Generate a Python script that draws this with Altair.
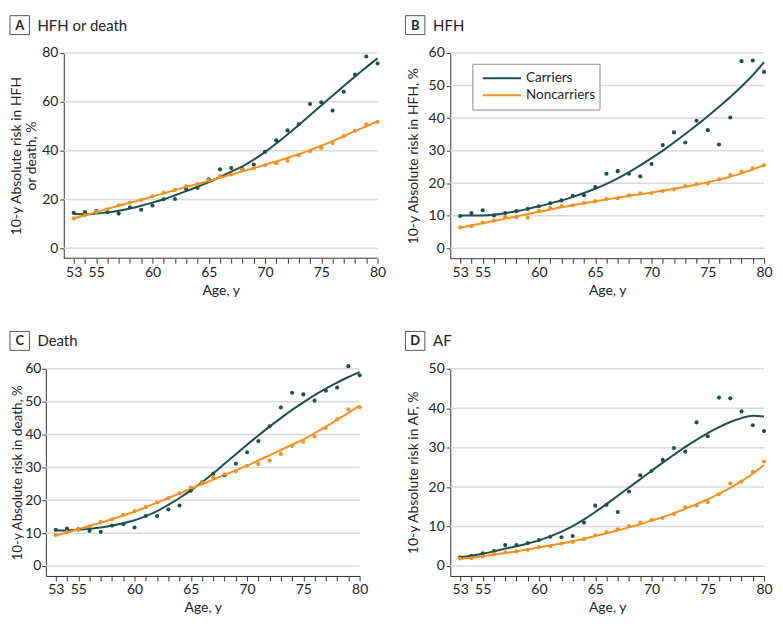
import altair as alt
import pandas as pd

ages = list(range(53, 81))
shown_ages = [53, 55, 60, 65, 70, 75, 80]
groups = ["Carriers", "Noncarriers"]
TEAL = "#1e4f4b"
ORANGE = "#f7901e"

# Panel A: HFH or death
a_car_obs = [14.5, 14.8, 15.2, 14.8, 14.2, 16.8, 15.8, 17.5, 20.1, 20.2, 24.2, 24.7, 28.3, 32.3, 32.9, 32.4, 34.3, 39.5, 44.2, 48.3, 50.8, 59.1, 59.8, 56.4, 64.1, 71.2, 78.6, 75.7]
a_non_obs = [12.2, 13.6, 14.9, 16.0, 17.6, 18.7, 19.8, 21.3, 22.8, 24.0, 25.4, 26.4, 27.8, 29.6, 30.2, 32.1, 32.8, 34.0, 34.8, 35.8, 38.1, 39.7, 41.1, 43.1, 46.0, 48.1, 50.8, 51.8]
a_car_fit = [14.0, 13.9, 14.2, 14.7, 15.4, 16.3, 17.4, 18.7, 20.1, 21.7, 23.4, 25.2, 27.1, 29.2, 31.4, 33.6, 36.3, 39.4, 42.9, 46.6, 50.5, 54.5, 58.5, 62.5, 66.5, 70.4, 74.2, 77.8]
a_non_fit = [12.2, 13.5, 14.8, 16.1, 17.4, 18.6, 19.9, 21.2, 22.5, 23.8, 25.1, 26.3, 27.6, 28.9, 30.2, 31.5, 32.8, 34.2, 35.6, 37.0, 38.5, 40.2, 42.0, 43.9, 45.9, 48.0, 50.0, 52.0]

# Panel B: HFH
b_car_obs = [9.9, 10.8, 11.7, 10.1, 10.8, 11.4, 12.1, 12.9, 13.8, 14.7, 16.1, 16.3, 18.8, 22.9, 23.7, 22.9, 22.1, 25.9, 31.7, 35.6, 32.5, 39.2, 36.3, 31.9, 40.2, 57.5, 57.7, 54.2]
b_non_obs = [6.4, 6.8, 7.9, 8.5, 9.6, 9.5, 9.4, 11.5, 12.4, 12.9, 13.2, 13.9, 14.5, 15.1, 15.4, 16.3, 16.9, 17.0, 17.6, 18.1, 19.1, 19.7, 19.9, 21.2, 22.5, 23.6, 24.6, 25.5]
b_car_fit = [10.1, 10.1, 10.1, 10.3, 10.8, 11.4, 12.1, 12.9, 13.8, 14.7, 15.8, 17.0, 18.3, 19.8, 21.5, 23.4, 25.5, 27.7, 30.0, 32.5, 35.1, 37.8, 40.6, 43.5, 46.5, 49.7, 53.2, 57.2]
b_non_fit = [6.3, 7.0, 7.7, 8.4, 9.1, 9.8, 10.5, 11.2, 11.9, 12.6, 13.2, 13.8, 14.4, 15.0, 15.5, 16.1, 16.6, 17.1, 17.7, 18.3, 18.9, 19.6, 20.3, 21.1, 22.0, 23.0, 24.2, 25.5]

# Panel C: Death
c_car_obs = [11.0, 11.4, 11.2, 10.7, 10.4, 12.3, 12.7, 11.7, 15.2, 15.2, 17.2, 18.4, 22.9, 25.5, 28.1, 27.6, 31.1, 34.6, 38.0, 42.5, 48.2, 52.7, 52.2, 50.3, 53.3, 54.3, 60.8, 58.0]
c_non_obs = [9.4, 10.3, 11.0, 12.1, 13.4, 14.2, 15.6, 16.7, 17.9, 19.3, 20.7, 22.1, 23.9, 25.4, 26.9, 27.9, 28.8, 30.5, 31.0, 32.1, 34.1, 36.5, 37.8, 39.4, 42.0, 44.6, 47.7, 48.3]
c_car_fit = [10.8, 10.8, 11.0, 11.3, 11.7, 12.3, 13.0, 13.9, 15.2, 16.7, 18.6, 20.7, 23.0, 25.5, 28.2, 31.1, 34.0, 36.9, 39.7, 42.4, 45.0, 47.5, 49.8, 52.0, 54.0, 55.8, 57.5, 59.0]
c_non_fit = [9.3, 10.2, 11.2, 12.2, 13.2, 14.3, 15.4, 16.5, 17.9, 19.3, 20.7, 22.1, 23.5, 24.9, 26.3, 27.7, 29.1, 30.6, 32.1, 33.7, 35.3, 36.9, 38.5, 40.4, 42.4, 44.5, 46.6, 48.8]

# Panel D: AF
d_car_obs = [2.2, 2.6, 3.2, 3.8, 5.3, 5.3, 5.8, 6.6, 7.4, 7.3, 7.6, 11.0, 15.3, 15.5, 13.7, 18.9, 23.0, 24.1, 26.9, 29.9, 29.0, 36.4, 32.9, 42.7, 42.5, 39.2, 35.7, 34.2]
d_non_obs = [1.9, 2.0, 2.4, 3.0, 3.5, 3.7, 4.1, 4.8, 5.0, 5.7, 6.1, 6.8, 7.8, 8.6, 9.3, 10.1, 11.0, 11.7, 12.2, 13.2, 14.9, 15.3, 16.2, 18.2, 20.9, 21.4, 23.9, 26.5]
d_car_fit = [2.2, 2.6, 3.1, 3.7, 4.4, 5.0, 5.7, 6.5, 7.5, 8.7, 10.1, 11.8, 13.7, 15.7, 17.8, 19.9, 22.0, 24.1, 26.2, 28.2, 30.2, 32.0, 33.7, 35.2, 36.5, 37.5, 38.1, 37.9]
d_non_fit = [1.8, 2.1, 2.5, 2.9, 3.3, 3.7, 4.2, 4.7, 5.2, 5.7, 6.3, 6.9, 7.6, 8.3, 9.0, 9.8, 10.6, 11.5, 12.4, 13.4, 14.5, 15.7, 16.9, 18.3, 19.8, 21.5, 23.4, 25.6]

one = pd.DataFrame({"k": [0]})
PX_PER_YEAR = 315 / (80 - 52.12)


def long_df(car, non):
    return pd.DataFrame({
        "age": ages + ages,
        "val": car + non,
        "group": [groups[0]] * len(ages) + [groups[1]] * len(ages),
    })


def panel(letter, title, car_obs, non_obs, car_fit, non_fit, ytitle, ymin, ymax,
          yticks, height, box_x, title_x, label_pad, title_pad, title_size,
          legend=False, shift=0):
    width = 315 + shift
    xmin = 52.12 - shift / PX_PER_YEAR
    x = alt.X("age:Q",
              scale=alt.Scale(domain=[xmin, 80], nice=False, zero=False),
              axis=alt.Axis(values=ages, labelExpr="indexof(" + str(shown_ages) + ", datum.value) >= 0 ? datum.label : ''",
                            title="Age, y", tickSize=5, labelPadding=2, titlePadding=4,
                            grid=False, labelOverlap=False, labelFlush=False,
                            domain=(shift == 0), titleX=shift + 315 / 2))
    y = alt.Y("val:Q",
              scale=alt.Scale(domain=[ymin, ymax], nice=False, zero=False),
              axis=alt.Axis(values=yticks, title=ytitle, tickSize=4, labelPadding=label_pad,
                            titlePadding=title_pad, titleFontSize=title_size,
                            grid=False, labelFlush=False, offset=-shift))
    color = alt.Color("group:N", scale=alt.Scale(domain=groups, range=[TEAL, ORANGE]), legend=None)
    grid = alt.Chart(pd.DataFrame({"val": yticks})).mark_rule(color="#dadada", strokeWidth=1.5).encode(
        y=y, x=alt.value(shift), x2=alt.value(width))
    layers = [grid]
    if shift:
        layers.append(alt.Chart(one).mark_rule(color="#333333", strokeWidth=1).encode(
            x=alt.value(shift), x2=alt.value(width), y=alt.value(height)))
    lines = alt.Chart(long_df(car_fit, non_fit)).mark_line(strokeWidth=2, interpolate="monotone").encode(x=x, y=y, color=color)
    pts = alt.Chart(long_df(car_obs, non_obs)).mark_circle(size=17, opacity=1).encode(x=x, y=y, color=color)
    bx = box_x + shift
    box = alt.Chart(one).mark_rect(fill="white", stroke="#555555", strokeWidth=1).encode(
        x=alt.value(bx), x2=alt.value(bx + 19.5), y=alt.value(-37.5), y2=alt.value(-18.5))
    lt = alt.Chart(one).mark_text(fontSize=13, fontWeight="bold", align="center", baseline="middle", color="#222222").encode(
        x=alt.value(bx + 9.75), y=alt.value(-27.5), text=alt.value(letter))
    tt = alt.Chart(one).mark_text(fontSize=15, align="left", baseline="middle", color="#222222").encode(
        x=alt.value(title_x + shift), y=alt.value(-27.5), text=alt.value(title))
    layers += [lines, pts, box, lt, tt]
    if legend:
        lbox = alt.Chart(one).mark_rect(fill="white", stroke="#8a8a8a", strokeWidth=1).encode(
            x=alt.value(22.7), x2=alt.value(150.3), y=alt.value(11.3), y2=alt.value(57.3))
        layers.append(lbox)
        for i, (g, c) in enumerate(zip(groups, [TEAL, ORANGE])):
            yy = 25.3 + 17 * i
            layers.append(alt.Chart(one).mark_rule(color=c, strokeWidth=2).encode(
                x=alt.value(32.7), x2=alt.value(71), y=alt.value(yy)))
            layers.append(alt.Chart(one).mark_text(fontSize=13.5, align="left", baseline="middle", color="#222222").encode(
                x=alt.value(76), y=alt.value(yy), text=alt.value(g)))
    return alt.layer(*layers).properties(width=width, height=height)


pa = panel("A", "HFH or death", a_car_obs, a_non_obs, a_car_fit, a_non_fit,
           ["10-y Absolute risk in HFH", "or death, %"], -4.08, 80, [0, 20, 40, 60, 80], 206,
           -54, -26.5, 2, 3, 14, shift=18)
pb = panel("B", "HFH", b_car_obs, b_non_obs, b_car_fit, b_non_fit,
           "10-y Absolute risk in HFH, %", -3.06, 60, [0, 10, 20, 30, 40, 50, 60], 206,
           -45, -17.3, 2, 8, 14, legend=True)
pc = panel("C", "Death", c_car_obs, c_non_obs, c_car_fit, c_non_fit,
           "10-y Absolute risk in death, %", -3.03, 60, [0, 10, 20, 30, 40, 50, 60], 208,
           -36, -8.5, 1, 0, 13.5)
pd_ = panel("D", "AF", d_car_obs, d_non_obs, d_car_fit, d_non_fit,
            "10-y Absolute risk in AF, %", -2.53, 50, [0, 10, 20, 30, 40, 50], 208,
            -45, -17.3, 2, 8, 14)

chart = alt.concat(pa, pb, pc, pd_, columns=2,
                   spacing={"row": 34, "column": 18}).properties(
    padding={"left": 1, "top": 6, "right": 2, "bottom": 2}
).configure(font="Lato").configure_view(stroke=None).configure_axis(
    domainColor="#333333", tickColor="#333333", labelColor="#222222", titleColor="#222222",
    labelFontSize=14, titleFontSize=14, titleFontWeight="normal",
    domainWidth=1, tickWidth=1, titleLineHeight=15,
    labelFont="Lato", titleFont="Lato"
)

chart.save("out.html", embed_options={"renderer": "svg", "actions": False})
